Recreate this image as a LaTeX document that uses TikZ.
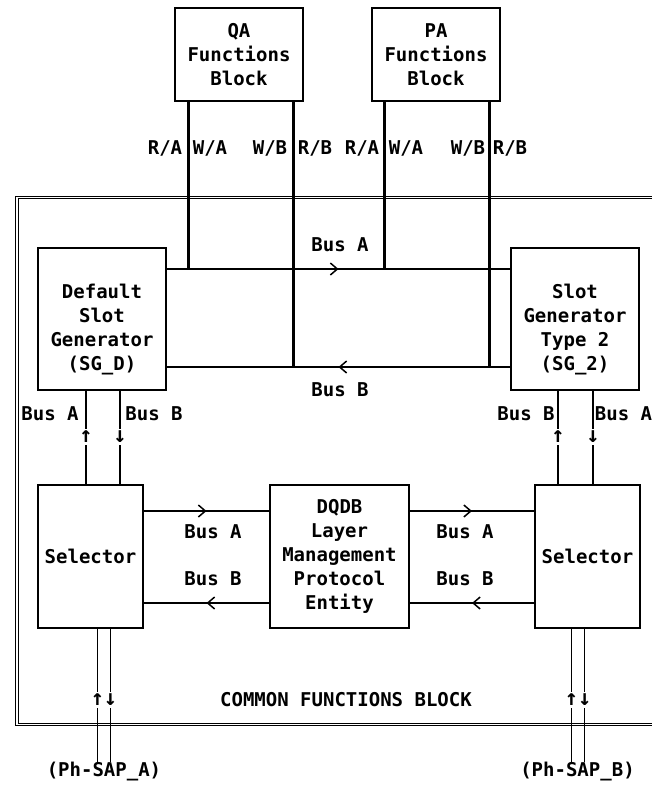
\documentclass[tikz,border=0pt]{standalone}
\usepackage{fontspec}
\newfontfamily\diafont{DejaVu Sans Mono Bold}
\usetikzlibrary{positioning,calc,arrows.meta,decorations.markings}
\tikzset{
  wire/.style    = {line width=1.4pt},
  twire/.style   = {line width=3pt},
  frame/.style   = {line width=1pt, double, double distance=1.6pt},
  fbox/.style    = {draw, line width=2.4pt, minimum width=128pt, minimum height=93pt,
                    inner sep=0pt, align=center, font=\diafont\fontsize{19}{24}\selectfont},
  gbox/.style    = {draw, line width=1.6pt, minimum width=128pt, minimum height=142pt,
                    inner sep=0pt},
  sbox/.style    = {draw, line width=1.6pt, minimum width=105pt, minimum height=143pt,
                    inner sep=0pt, align=center, font=\diafont\fontsize{19}{24}\selectfont},
  lbl/.style     = {inner sep=0pt, align=center, font=\diafont\fontsize{19}{24}\selectfont},
  arr/.style     = {fill=white, inner sep=2pt, font=\diafont\fontsize{22}{24}\selectfont},
  midarr/.style  = {postaction={decorate}, decoration={markings,
                    mark=at position 0.5 with {\arrow{Straight Barb[length=7pt,width=12pt,line width=1.5pt]}}}},
}
\begin{document}
\begin{tikzpicture}[x=1pt,y=-1pt]
  \useasboundingbox (0,0) rectangle (652,788);
  % common functions block
  \draw[frame] (16.8,197.5) rectangle (670,724.5);
  \node[lbl] (cfb) at (346,700) {COMMON FUNCTIONS BLOCK};
  % upper function blocks
  \node[fbox] (qa) at (239,54.5) {QA\\Functions\\Block};
  \node[fbox] (pa) at (436,54.5) {PA\\Functions\\Block};
  % slot generators
  \node[gbox] (sgd) at (102,319) {};
  \node[lbl] (sgdt) at (102,330) {Default\\Slot\\Generator\\(SG\_D)};
  \node[gbox] (sgtwo) at (575,319) {};
  \node[lbl] (sgtwot) at (575,330) {Slot\\Generator\\Type 2\\(SG\_2)};
  % selectors and layer management
  \node[sbox] (selA) at (90.5,556.5) {Selector};
  \node[sbox] (selB) at (587.5,556.5) {Selector};
  \node[sbox, minimum width=139pt] (lm) at (339.5,556.5) {DQDB\\Layer\\Management\\Protocol\\Entity};
  % bus A and bus B
  \coordinate (ba) at (0,269);
  \coordinate (bb) at (0,367);
  \draw[twire] ([xshift=-51]qa.south) -- ([xshift=-51]qa.south |- ba);
  \draw[twire] ([xshift=54]qa.south) -- ([xshift=54]qa.south |- bb);
  \draw[twire] ([xshift=-52]pa.south) -- ([xshift=-52]pa.south |- ba);
  \draw[twire] ([xshift=53]pa.south) -- ([xshift=53]pa.south |- bb);
  \draw[wire,midarr] (sgd.east |- ba) -- (sgtwo.west |- ba);
  \draw[wire,midarr] (sgtwo.west |- bb) -- (sgd.east |- bb);
  \node[lbl] (lba) at (340,245) {Bus A};
  \node[lbl] (lbb) at (340,390) {Bus B};
  \node[lbl] (qra) at (165,148) {R/A};
  \node[lbl] (qwa) at (210,148) {W/A};
  \node[lbl] (qwb) at (270,148) {W/B};
  \node[lbl] (qrb) at (315,148) {R/B};
  \node[lbl] (pra) at (362,148) {R/A};
  \node[lbl] (pwa) at (406,148) {W/A};
  \node[lbl] (pwb) at (468,148) {W/B};
  \node[lbl] (prb) at (510,148) {R/B};
  % generator to selector
  \draw[wire] ([xshift=-16]sgd.south) -- ([xshift=-16]sgd.south |- selA.north);
  \draw[wire] ([xshift=18]sgd.south) -- ([xshift=18]sgd.south |- selA.north);
  \draw[wire] ([xshift=-17]sgtwo.south) -- ([xshift=-17]sgtwo.south |- selB.north);
  \draw[wire] ([xshift=18]sgtwo.south) -- ([xshift=18]sgtwo.south |- selB.north);
  \node[arr] (upa) at ([xshift=-16]sgd.south |- 0,437) {↑};
  \node[arr] (dnb) at ([xshift=18]sgd.south |- 0,437) {↓};
  \node[arr] (upb) at ([xshift=-17]sgtwo.south |- 0,437) {↑};
  \node[arr] (dna) at ([xshift=18]sgtwo.south |- 0,437) {↓};
  \node[lbl] (sla) at (50,414) {Bus A};
  \node[lbl] (slb) at (154,414) {Bus B};
  \node[lbl] (srb) at (526,414) {Bus B};
  \node[lbl] (sra) at (623.5,414) {Bus A};
  % selector to layer management
  \coordinate (ra) at (0,511);
  \coordinate (rb) at (0,603);
  \draw[wire,midarr] (selA.east |- ra) -- (lm.west |- ra);
  \draw[wire,midarr] (lm.west |- rb) -- (selA.east |- rb);
  \draw[wire,midarr] (lm.east |- ra) -- (selB.west |- ra);
  \draw[wire,midarr] (selB.west |- rb) -- (lm.east |- rb);
  \node[lbl] (mla) at (213,532) {Bus A};
  \node[lbl] (mlb) at (213,579) {Bus B};
  \node[lbl] (mra) at (465,532) {Bus A};
  \node[lbl] (mrb) at (465,579) {Bus B};
  % physical SAPs
  \node[lbl] (sapA) at (104,772) {(Ph-SAP\_A)};
  \node[lbl] (sapB) at (577.5,772) {(Ph-SAP\_B)};
  \draw[wire] ([xshift=7]selA.south) -- ([xshift=7]selA.south |- sapA.north);
  \draw[wire] ([xshift=20]selA.south) -- ([xshift=20]selA.south |- sapA.north);
  \draw[wire] ([xshift=-16]selB.south) -- ([xshift=-16]selB.south |- sapB.north);
  \draw[wire] ([xshift=-3]selB.south) -- ([xshift=-3]selB.south |- sapB.north);
  \node[arr] (ud1) at (104,700) {↑↓};
  \node[arr] (ud2) at (578,700) {↑↓};
\end{tikzpicture}
\end{document}
